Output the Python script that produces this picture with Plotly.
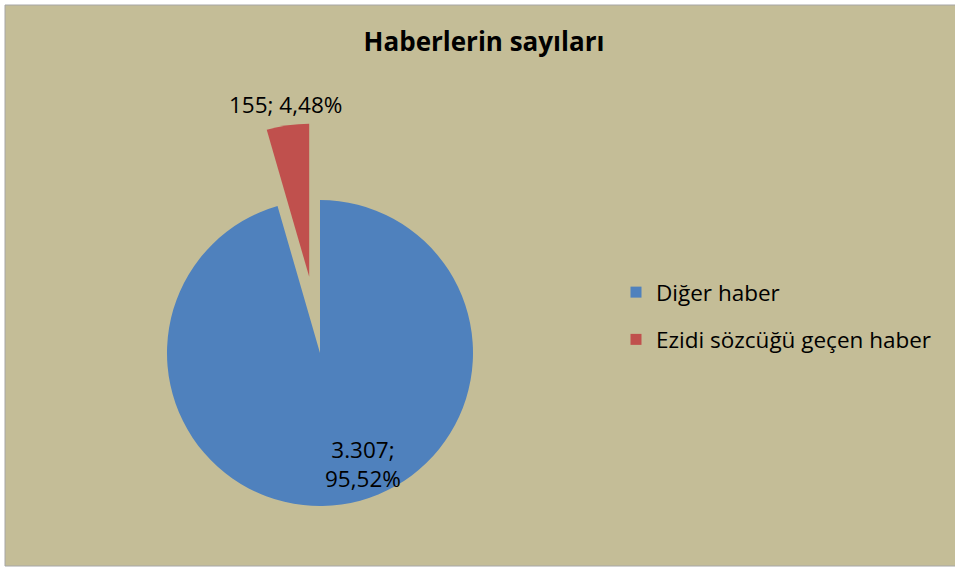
import math
import plotly.graph_objects as go

# ---- data ----
categories = ["Diğer haber", "Ezidi sözcüğü geçen haber"]
values = [3307, 155]
colors = ["#4F81BD", "#C0504D"]
title_text = "Haberlerin sayıları"

W, H = 955, 567
FONT = "Open Sans"

total = sum(values)
def fmt_num(v):
    return f"{v:,}".replace(",", ".")
def fmt_pct(v):
    return f"{100 * v / total:.2f}".replace(".", ",") + "%"

labels_txt = [f"{fmt_num(v)}; {fmt_pct(v)}" for v in values]

# ---- geometry (pixels) ----
cx, cy, r = 320, 353, 153
pull_px = 77
red_mid = math.radians(360 * values[1] / total / 2)
rcx = cx - pull_px * math.sin(red_mid)
rcy = cy - pull_px * math.cos(red_mid)

def dom(x, y):
    return dict(x=[(x - r) / W, (x + r) / W],
                y=[(H - y - r) / H, (H - y + r) / H])

fig = go.Figure()
# main pie (blue slice shown, red slice transparent)
fig.add_trace(go.Pie(
    labels=categories, values=values, sort=False, direction="clockwise",
    rotation=0, marker=dict(colors=[colors[0], "rgba(0,0,0,0)"], line=dict(width=0)),
    textinfo="none", showlegend=False, domain=dom(cx, cy), hoverinfo="label+value+percent"))
# exploded slice
fig.add_trace(go.Pie(
    labels=categories, values=values, sort=False, direction="clockwise",
    rotation=0, marker=dict(colors=["rgba(0,0,0,0)", colors[1]], line=dict(width=0)),
    textinfo="none", showlegend=False, domain=dom(rcx, rcy), hoverinfo="label+value+percent"))

# legend entries
for i, (c, col) in enumerate(zip(categories, colors)):
    fig.add_trace(go.Scatter(x=[None], y=[None], mode="markers", name=c,
                             legendgroup=f"g{i}",
                             marker=dict(symbol="square", size=11, color=col)))

lbl_font = dict(family=FONT, size=22.5, color="#000000")
annotations = [
    dict(x=285 / W, y=1 - 105 / H, xref="paper", yref="paper", showarrow=False,
         xanchor="center", yanchor="middle", text=labels_txt[1], font=lbl_font),
    dict(x=363 / W, y=1 - 464 / H, xref="paper", yref="paper", showarrow=False,
         xanchor="center", yanchor="middle",
         text=labels_txt[0].replace(" ", "<br>"), font=lbl_font),
]

fig.update_layout(
    width=W, height=H, autosize=False,
    margin=dict(l=0, r=0, t=0, b=0),
    paper_bgcolor="#FFFFFF", plot_bgcolor="rgba(0,0,0,0)",
    title=dict(text=f"<b>{title_text}</b>", x=484 / W, xanchor="center",
               y=1 - 42 / H, yanchor="middle",
               font=dict(family=FONT, size=26, color="#000000")),
    xaxis=dict(visible=False), yaxis=dict(visible=False),
    legend=dict(x=616 / W, y=1 - 271 / H, xanchor="left", yanchor="top",
                font=dict(family=FONT, size=22.5, color="#000000"),
                bgcolor="rgba(0,0,0,0)", tracegroupgap=15, traceorder="grouped",
                itemclick=False),
    shapes=[dict(type="rect", xref="paper", yref="paper", layer="below",
                 x0=5 / W, x1=1.2, y0=1 / H, y1=1 - 5 / H,
                 fillcolor="#C4BD97", line=dict(color="#A6A6A6", width=1))],
    annotations=annotations,
)

fig.write_html("out.html", config={"displayModeBar": False},
               post_script="document.body.style.margin='0';document.body.style.padding='0';document.body.style.overflow='hidden';")
